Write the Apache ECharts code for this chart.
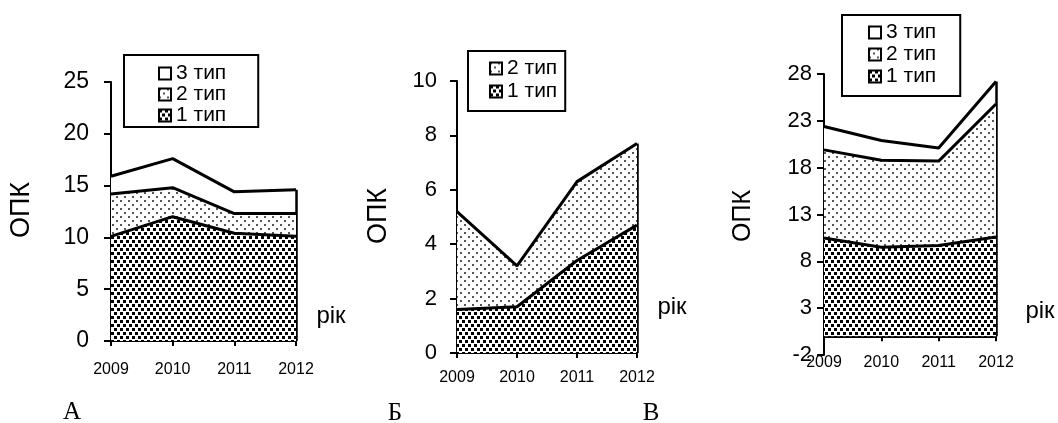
<!DOCTYPE html>
<html>
<head>
<meta charset="utf-8">
<script src="https://cdn.jsdelivr.net/npm/echarts@6/dist/echarts.min.js"></script>
<style>
  html, body { margin: 0; padding: 0; background: #fff; }
  #chart { width: 1058px; height: 423px; }
</style>
</head>
<body>
<div id="chart"></div>
<script>
const years = ['2009', '2010', '2011', '2012']

// chart А
const a1 = [10.1, 12.0, 10.4, 10.1]
const a2 = [4.1, 2.8, 1.9, 2.2]
const a3 = [1.7, 2.8, 2.1, 2.3]
// chart Б
const b1 = [1.6, 1.7, 3.4, 4.7]
const b2 = [3.6, 1.5, 2.9, 3.0]
// chart В
const c1 = [10.5, 9.5, 9.7, 10.6]
const c2 = [9.4, 9.3, 9.0, 14.2]
const c3 = [2.5, 2.1, 1.4, 2.4]

const names = ['1 тип', '2 тип', '3 тип']
const FONT = '"Liberation Sans", Arial, sans-serif'
const SERIF = '"Liberation Serif", "Times New Roman", serif'

function makePattern(w, h, dots, size, color) {
  const c = document.createElement('canvas')
  c.width = w
  c.height = h
  const ctx = c.getContext('2d')
  ctx.fillStyle = '#fff'
  ctx.fillRect(0, 0, w, h)
  ctx.fillStyle = color
  dots.forEach(([x, y]) => ctx.fillRect(x, y, size, size))
  return c
}

const dense = { image: makePattern(6, 8, [[0, 0], [3, 4]], 3, '#000'), repeat: 'repeat' }
const sparse = { image: makePattern(8, 8, [[0, 0], [4, 4]], 2, '#555'), repeat: 'repeat' }
const fills = [dense, sparse, '#fff']

const chart = echarts.init(document.getElementById('chart'))

const grids = [
  { left: 111, right: 762, top: 82, bottom: 82 },
  { left: 457, right: 421, top: 81, bottom: 70 },
  { left: 824, right: 62, top: 74, bottom: 68 },
]

const yCfg = [
  { min: 0, max: 25, interval: 5, margin: 22, size: 23 },
  { min: 0, max: 10, interval: 2, margin: 20, size: 22 },
  { min: -2, max: 28, interval: 5, margin: 12, size: 22 },
]
const xMargin = [21, 17, 18]

// the x axis of chart В sits on the zero line, two units above the grid bottom
const gridC = 423 - grids[2].top - grids[2].bottom
const zeroShift = -(0 - yCfg[2].min) / (yCfg[2].max - yCfg[2].min) * gridC
const xOffset = [0, 0, zeroShift]

const stacks = [[a1, a2, a3], [b1, b2], [c1, c2, c3]]

const series = []
stacks.forEach((arrs, gi) => {
  const total = arrs.reduce((s, a) => s + a[3], 0)
  arrs.forEach((vals, si) => {
    const s = {
      name: names[si],
      type: 'line',
      xAxisIndex: gi,
      yAxisIndex: gi,
      stack: 'g' + gi,
      data: vals,
      symbol: 'none',
      silent: true,
      lineStyle: { color: '#000', width: 3 },
      itemStyle: { color: '#000' },
      areaStyle: { color: fills[si], opacity: 1 },
      // lower layers on top so their border line is not covered by the next area
      z: 6 - si,
    }
    if (si === arrs.length - 1) {
      s.markLine = {
        silent: true,
        symbol: 'none',
        label: { show: false },
        lineStyle: { color: '#000', width: 2.5, type: 'solid' },
        data: [[{ coord: [years[3], 0] }, { coord: [years[3], total] }]],
      }
    }
    series.push(s)
  })
})

function legendItems(list) {
  return list.map((n) => ({
    name: n,
    itemStyle: { color: fills[names.indexOf(n)], borderColor: '#000', borderWidth: 2 },
  }))
}

const legendBase = {
  orient: 'vertical',
  icon: 'rect',
  itemWidth: 12,
  itemHeight: 12,
  selectedMode: false,
  backgroundColor: '#fff',
  borderColor: '#000',
  borderWidth: 2,
  textStyle: { color: '#000', fontSize: 21, fontFamily: FONT, lineHeight: 20 },
}

const txt = (x, y, text, size, rot, family) => ({
  type: 'text',
  x, y,
  rotation: rot || 0,
  silent: true,
  style: {
    text,
    font: size + 'px ' + (family || FONT),
    fill: '#000',
    align: 'center',
    verticalAlign: 'middle',
  },
})

chart.setOption({
  animation: false,
  backgroundColor: '#fff',
  grid: grids,
  xAxis: grids.map((g, i) => ({
    type: 'category',
    gridIndex: i,
    data: years,
    boundaryGap: false,
    offset: xOffset[i],
    axisLine: { onZero: false, lineStyle: { color: '#000', width: 2 } },
    axisTick: { length: 5, lineStyle: { color: '#000', width: 2 } },
    axisLabel: { color: '#000', fontSize: 16, fontFamily: FONT, margin: xMargin[i] },
    splitLine: { show: false },
  })),
  yAxis: yCfg.map((c, i) => ({
    type: 'value',
    gridIndex: i,
    min: c.min,
    max: c.max,
    interval: c.interval,
    axisLine: { show: true, lineStyle: { color: '#000', width: 2 } },
    axisTick: { show: true, length: 7, lineStyle: { color: '#000', width: 2 } },
    axisLabel: { color: '#000', fontSize: c.size, fontFamily: FONT, margin: c.margin },
    splitLine: { show: false },
  })),
  legend: [
    Object.assign({}, legendBase, {
      left: 124, top: 55, itemGap: 0, padding: [8, 32, 1, 34],
      data: legendItems(['3 тип', '2 тип', '1 тип']),
    }),
    Object.assign({}, legendBase, {
      left: 468, top: 51, itemGap: 2, padding: [7, 8, 9, 21],
      data: legendItems(['2 тип', '1 тип']),
    }),
    Object.assign({}, legendBase, {
      left: 842, top: 15, itemGap: 1, padding: [7, 24, 9, 26],
      data: legendItems(['3 тип', '2 тип', '1 тип']),
    }),
  ],
  graphic: [
    txt(22, 210, 'ОПК', 27, Math.PI / 2),
    txt(379, 216, 'ОПК', 27, Math.PI / 2),
    txt(743, 216, 'ОПК', 25, Math.PI / 2),
    txt(331, 316, 'рік', 24),
    txt(672, 307, 'рік', 24),
    txt(1040, 311, 'рік', 24),
    txt(72, 412, 'А', 25, 0, SERIF),
    txt(395, 413, 'Б', 25, 0, SERIF),
    txt(651, 413, 'В', 25, 0, SERIF),
  ],
  series,
})
</script>
</body>
</html>
